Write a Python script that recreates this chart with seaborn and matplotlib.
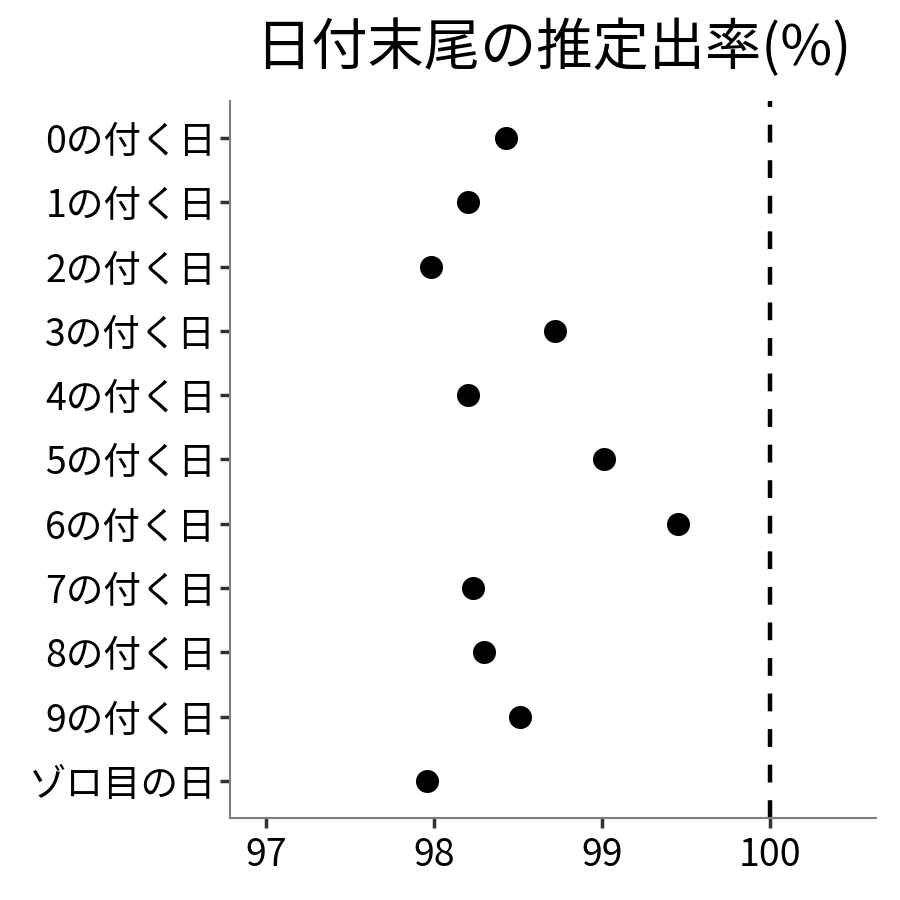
import pandas as pd
import matplotlib
matplotlib.use("Agg")
import matplotlib.pyplot as plt
import seaborn as sns

# data
days = ["0の付く日", "1の付く日", "2の付く日", "3の付く日", "4の付く日",
        "5の付く日", "6の付く日", "7の付く日", "8の付く日", "9の付く日",
        "ゾロ目の日"]
rates = [98.43, 98.20, 97.98, 98.72, 98.20, 99.01, 99.45, 98.23, 98.30, 98.51, 97.96]
ref_line = 100
xticks = [97, 98, 99, 100]

df = pd.DataFrame({"day": days, "rate": rates})

sns.set_theme(style="ticks")
plt.rcParams["font.family"] = ["Noto Sans CJK JP", "DejaVu Sans"]

fig = plt.figure(figsize=(9, 9), dpi=100)
ax = fig.add_axes([0.2556, 0.0911, 0.7178, 0.7967])

sns.stripplot(data=df, x="rate", y="day", order=days, jitter=False,
              color="black", size=16.6, linewidth=0, ax=ax, zorder=3)
ax.axvline(ref_line, color="black", lw=3.2, ls=(0, (4, 4)), zorder=2)

ax.set_xlim(96.788, 100.628)
ax.set_ylim(len(days) - 1 + 0.575, -0.575)
ax.set_xticks(xticks)
ax.set_xticklabels([str(t) for t in xticks])
ax.set_xlabel("")
ax.set_ylabel("")
ax.set_title("日付末尾の推定出率(%)", fontsize=40.5, color="black", pad=26)

for side in ["top", "right"]:
    ax.spines[side].set_visible(False)
for side in ["left", "bottom"]:
    ax.spines[side].set_color("#7f7f7f")
    ax.spines[side].set_linewidth(1.5)
ax.tick_params(axis="both", length=7, width=2.5, color="#333333",
               labelsize=27, labelcolor="black", pad=3)
ax.tick_params(axis="x", pad=6)

fig.savefig("out.png", dpi=100)
